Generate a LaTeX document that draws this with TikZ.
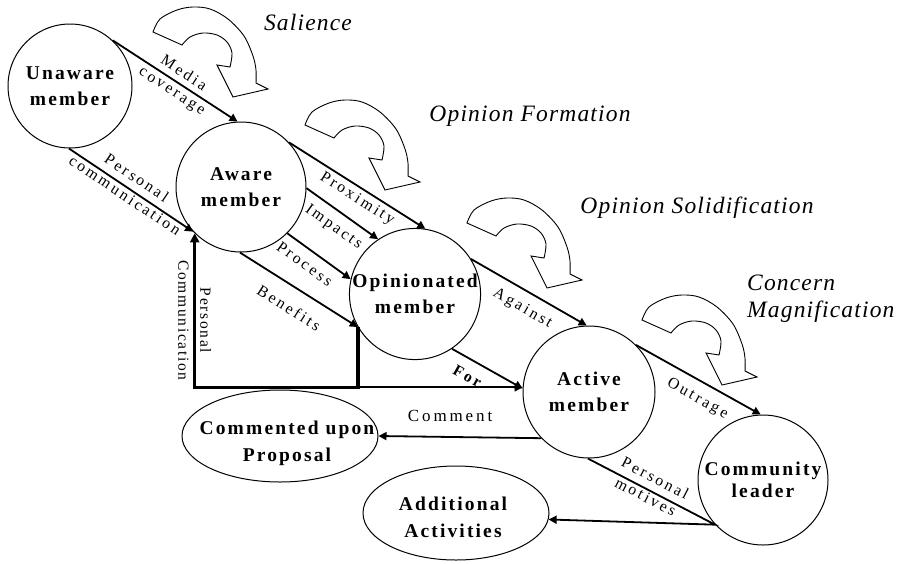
\documentclass[tikz,border=0pt]{standalone}
\usepackage{fontspec}
\setmainfont{Liberation Serif}
\newfontfamily\nodefnt[LetterSpace=11]{Liberation Serif}
\newfontfamily\lblfnt[LetterSpace=17]{Liberation Serif}
\newfontfamily\vlblfnt[LetterSpace=11]{Liberation Serif}
\newfontfamily\phasefnt[LetterSpace=5]{Liberation Serif}
\usetikzlibrary{arrows.meta,shapes.geometric}
\tikzset{
  state/.style={draw, line width=1pt, circle, minimum size=#1, inner sep=0pt, align=center,
    font=\nodefnt\bfseries\fontsize{19.5}{26}\selectfont},
  oval/.style={draw, line width=1pt, ellipse, inner sep=0pt},
  ovaltext/.style={inner sep=0pt, align=center, font=\nodefnt\bfseries\fontsize{19.5}{27}\selectfont},
  phase/.style={inner sep=0pt, align=left, font=\phasefnt\itshape\fontsize{23.5}{27}\selectfont},
  arr/.style={line width=1.8pt, -{Triangle[length=8pt,width=8pt]}},
  fbk/.style={line width=3.5pt, -{Triangle[length=9pt,width=9pt]}},
  lbl/.style={sloped, inner xsep=0pt, font=\lblfnt\fontsize{15.8}{21}\selectfont},
  lbltwo/.style={sloped, inner sep=0pt, align=center, font=\lblfnt\fontsize{15.8}{21}\selectfont},
  turnarrow/.pic={
    \draw[line width=0.9pt, fill=white]
      plot[smooth, tension=0.55] coordinates {(-80,-65) (-73,-78) (-56,-87) (-40,-90) (-23,-88) (-5,-78) (11,-61) (20,-41) (23,-27) (23,-14)}
      -- (35,-8) -- (0,0) -- (-16,-32)
      -- plot[smooth, tension=0.55] coordinates {(-3,-30) (-1,-44) (-6,-55) (-16,-62) (-30,-64) (-43,-60) (-51,-52)}
      -- cycle;
  }
}
\begin{document}
\begin{tikzpicture}[x=1pt, y=-1pt]
\useasboundingbox (0,0) rectangle (910,563);

% curved phase arrows
\pic at (233,97) {turnarrow};
\pic at (385,190) {turnarrow};
\pic at (547,288) {turnarrow};
\pic at (722,385) {turnarrow};

% phase labels
\node[phase] (ph1) at (308,22.5) {Salience};
\node[phase] (ph2) at (530,116.5) {Opinion Formation};
\node[phase] (ph3) at (697,207.5) {Opinion Solidification};
\node[phase, anchor=west] (ph4) at (747,298.5) {Concern\\Magnification};

% states
\node[state=124pt] (U) at (70,86) {Unaware\\member};
\node[state=130pt] (A) at (241,187) {Aware\\member};
\node[state=130pt] (O) at (415,294) {Opinionated\\member};
\node[state=132pt] (Ac) at (589,392) {Active\\member};
\node[state=130pt, font=\nodefnt\bfseries\fontsize{19.5}{22}\selectfont] (C) at (763,480) {Community\\leader};
\node[oval, minimum width=196pt, minimum height=92pt] (CP) at (280,436) {};
\node[ovaltext] (CPt) at (287,443) {Commented upon\\Proposal};
\node[oval, minimum width=186pt, minimum height=94pt] (AA) at (456,513) {};
\node[ovaltext] (AAt) at (453,517) {Additional\\Activities};

\coordinate (fb) at (A.225 |- Ac.176);
\coordinate (fm) at (O.210.5 |- Ac.176);

% connectors
\draw[arr] (U.47) -- node[lbltwo, pos=0.52]{Media\\coverage} (A.93);
\draw[arr] (U.269) -- node[lbltwo, pos=0.486, yshift=3pt]{Personal\\communication} (A.223);
\draw[arr] (A.43) -- node[lbl, below, inner ysep=3.8pt, pos=0.545]{Proximity} (O.81);
\draw[arr] (A.-1) -- node[lbl, below, inner ysep=8.5pt, pos=0.51]{Impacts} (O.124);
\draw[arr] (A.-45) -- node[lbl, below, inner ysep=8.5pt, pos=0.41]{Process} (O.167);
\draw[arr] (A.269) -- node[lbl, below, inner ysep=14pt, pos=0.51]{Benefits} (O.210.5);
\draw[arr] (O.32.5) -- node[lbl, below, inner ysep=9.5pt, pos=0.52]{Against} (Ac.92);
\draw[arr] (O.-56) -- node[lbl, below, inner ysep=10pt, pos=0.33, font=\lblfnt\bfseries\fontsize{15.8}{21}\selectfont]{For} (Ac.177);
\draw[arr] (fm) -- (Ac.176);
\draw[fbk] (O.210.5) |- (fb) -- node[pos=0.435, rotate=-90, inner sep=0pt, align=center,
   font=\vlblfnt\fontsize{15.5}{22}\selectfont]{Personal\\Communication} (A.225);
\draw[arr] (Ac.45.6) -- node[lbl, below, inner ysep=9.5pt, pos=0.56]{Outrage} (C.92.7);
\draw[arr] (Ac.224) -- node[above, inner xsep=0pt, inner ysep=14pt, pos=0.56,
   font=\lblfnt\fontsize{17}{21}\selectfont]{Comment} (CP.east);
\draw[arr] (Ac.269) -- node[lbltwo, pos=0.48, yshift=3.5pt]{Personal\\motives} (C.223) -- (AA.-4);
\end{tikzpicture}
\end{document}
